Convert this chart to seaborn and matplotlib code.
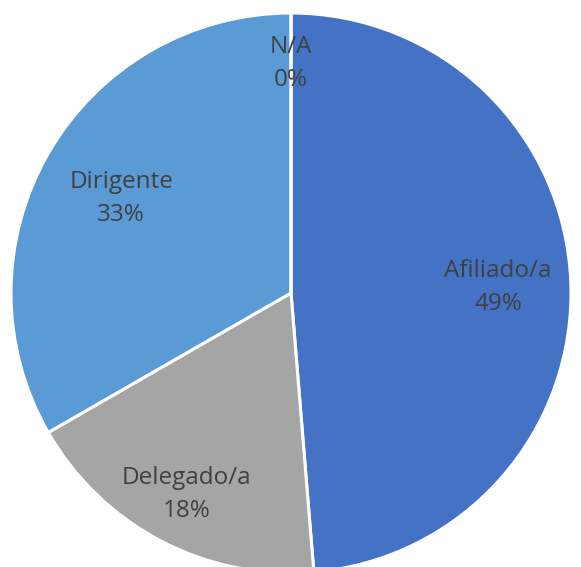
import matplotlib
matplotlib.use('Agg')
import matplotlib.pyplot as plt
import seaborn as sns
import numpy as np

# Datos del gráfico (orden de dibujo: desde las 12 en sentido horario)
categorias = ['Afiliado/a', 'Delegado/a', 'Dirigente', 'N/A']
porcentajes = [48.7, 18.0, 33.3, 0.0]
etiquetas_pct = ['49%', '18%', '33%', '0%']
colores = ['#4472C4', '#A5A5A5', '#5B9BD5', '#ED7D31']

sns.set_theme(style='white')
plt.rcParams['font.family'] = ['Open Sans', 'DejaVu Sans']

fig = plt.figure(figsize=(5.81, 5.67), dpi=100)
ax = fig.add_axes([0, 0, 1, 1])

wedges, _ = ax.pie(porcentajes, colors=colores, startangle=90, counterclock=False,
                   radius=1.0, wedgeprops=dict(edgecolor='white', linewidth=2.2))

# distancia de cada etiqueta al centro (fracción del radio)
distancias = [0.74, 0.80, 0.70, 0.83]
for w, cat, pct, d in zip(wedges, categorias, etiquetas_pct, distancias):
    ang = np.deg2rad((w.theta1 + w.theta2) / 2)
    ax.text(d * np.cos(ang), d * np.sin(ang) - 0.012, f'{cat}\n{pct}', ha='center', va='center',
            fontsize=17.5, color='#404040', linespacing=1.5)

# posición del círculo en la imagen (centro ~ (291, 293) px, radio ~280 px)
ax.set_xlim(-291 / 280, (581 - 291) / 280)
ax.set_ylim(-(567 - 293) / 280, 293 / 280)
ax.set_aspect('auto')
ax.axis('off')

fig.savefig('out.png', dpi=100)
